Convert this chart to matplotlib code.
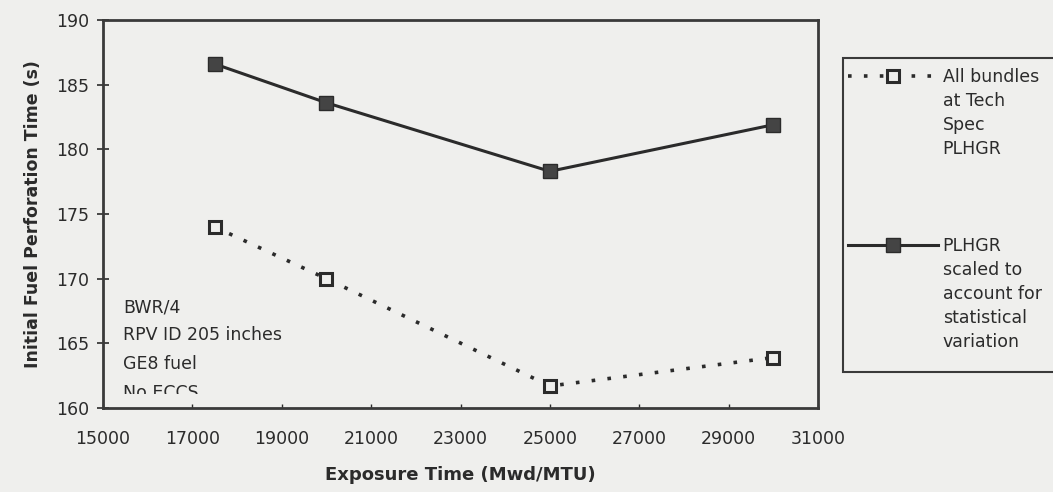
import matplotlib.pyplot as plt
from matplotlib.patches import Rectangle
from matplotlib.transforms import Bbox, TransformedBbox

plt.rcParams['font.family'] = ['DejaVu Sans']

# data
exposure = [17500, 20000, 25000, 30000]
tech_spec = [174.0, 170.0, 161.7, 163.9]
scaled = [186.6, 183.6, 178.3, 181.9]

x_ticks = [15000, 17000, 19000, 21000, 23000, 25000, 27000, 29000, 31000]
y_ticks = [160, 165, 170, 175, 180, 185, 190]

notes = ["BWR/4", "RPV ID 205 inches", "GE8 fuel", "No ECCS"]
legend_labels = [["All bundles", "at Tech", "Spec", "PLHGR"],
                 ["PLHGR", "scaled to", "account for", "statistical", "variation"]]

W, H = 1053, 492
bg = '#efefed'
ink = '#2b2b2b'

fig = plt.figure(figsize=(W / 100, H / 100), dpi=100, facecolor=bg)
ax = fig.add_axes([103 / W, 1 - 408 / H, 715 / W, 388 / H], facecolor=bg)

l1, = ax.plot(exposure, tech_spec, linestyle=(0, (1, 3.4)), color=ink, linewidth=2.6,
              marker='s', markersize=9, markerfacecolor=bg, markeredgecolor=ink,
              markeredgewidth=2.2)
l2, = ax.plot(exposure, scaled, linestyle='-', color=ink, linewidth=2.2,
              marker='s', markersize=9.5, markerfacecolor='#444444', markeredgecolor=ink)

ax.set_xlim(15000, 31000)
ax.set_ylim(160, 190)
ax.set_xticks(x_ticks)
ax.set_yticks(y_ticks)
ax.tick_params(axis='y', direction='inout', length=8, width=1.2, labelsize=12.5, colors=ink, pad=6)
ax.tick_params(axis='x', direction='in', length=3, width=1, labelsize=12.5, colors=ink, pad=16)
for s in ax.spines.values():
    s.set_linewidth(2)
    s.set_color('#3a3a3a')

ax.set_xlabel("Exposure Time (Mwd/MTU)", fontsize=13, fontweight='bold', color=ink, labelpad=13)
ax.set_ylabel("Initial Fuel Perforation Time (s)", fontsize=12.5, fontweight='bold', color=ink, labelpad=10)

# boxed notes, bottom line cut off as in the original
note_box = TransformedBbox(Bbox([[0, 14 / 388], [1, 1]]), ax.transAxes)
for i, line in enumerate(notes):
    t = ax.text(123 / W, 1 - (307 + 28.5 * i) / H, line, transform=fig.transFigure,
                fontsize=12.5, color=ink, va='center', ha='left', clip_on=True)
    t.set_clip_box(note_box)

# legend: frame runs off the right edge
frame = Rectangle((843 / W, 1 - 372 / H), 230 / W, 314 / H, transform=fig.transFigure,
                  facecolor=bg, edgecolor='#3a3a3a', linewidth=1.5, zorder=0)
fig.add_artist(frame)

rows = [77, 246]
step = 24
for handle, lines, y in zip([l1, l2], legend_labels, rows):
    leg = fig.legend([handle], [lines[0]], loc='center left',
                     bbox_to_anchor=(848 / W, 1 - y / H), frameon=False,
                     fontsize=12.5, handlelength=5.2, handletextpad=0.25,
                     borderpad=0, borderaxespad=0)
    for t in leg.get_texts():
        t.set_color(ink)
    fig.canvas.draw()
    x0 = leg.get_texts()[0].get_window_extent().x0
    for k, line in enumerate(lines[1:], start=1):
        fig.text(x0 / W, 1 - (y + step * k) / H, line, fontsize=12.5, color=ink,
                 va='center', ha='left')

fig.savefig('out.png', dpi=100, facecolor=bg)
